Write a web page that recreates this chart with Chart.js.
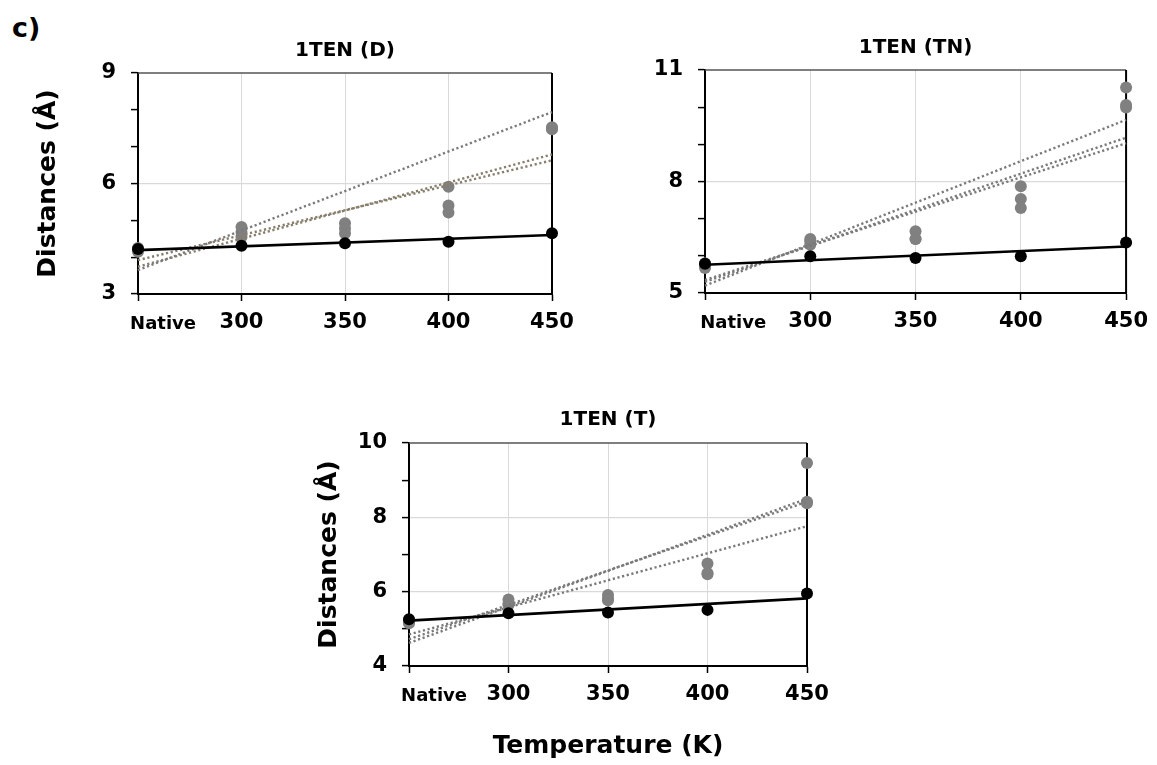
<!DOCTYPE html>
<html><head><meta charset="utf-8">
<script src="https://cdn.jsdelivr.net/npm/chart.js@4.4.1/dist/chart.umd.min.js"></script>
<style>
html,body{margin:0;padding:0;background:#fff;}
body{width:1157px;height:765px;position:relative;overflow:hidden;}
canvas{position:absolute;}
#lbl{position:absolute;left:12px;top:12px;font:bold 27px "DejaVu Sans";color:#000;line-height:32px;}
</style></head><body>
<div id="lbl">c)</div>
<canvas id="c1" width="590" height="345" style="left:0;top:0"></canvas>
<canvas id="c2" width="567" height="345" style="left:590px;top:0"></canvas>
<canvas id="c3" width="560" height="385" style="left:300px;top:380px"></canvas>
<script>
// ---- categories / tick labels ----
const categories = ['Native', '300', '350', '400', '450'];
const dMajorTicks = [3, 6, 9];
const tnMajorTicks = [5, 8, 11];
const tMajorTicks = [4, 6, 8, 10];

// ---- 1TEN (D) ----
const dBlack = [4.22, 4.31, 4.38, 4.42, 4.65];
const dGrayA = [4.25, 4.82, 4.92, 5.91, 7.53];
const dGrayB = [4.20, 4.68, 4.78, 5.40, 7.47];
const dGrayC = [4.15, 4.55, 4.65, 5.21, 7.50];
const dTrendBlack = [4.19, 4.60];
const dTrendA = [3.65, 7.94];
const dTrendB = [3.74, 6.79];
const dTrendC = [3.92, 6.63];

// ---- 1TEN (TN) ----
const tnBlack = [5.79, 5.99, 5.94, 5.99, 6.36];
const tnGrayA = [5.80, 6.45, 6.66, 7.87, 10.53];
const tnGrayB = [5.75, 6.39, 6.45, 7.53, 10.06];
const tnGrayC = [5.67, 6.30, 6.45, 7.29, 9.99];
const tnTrendBlack = [5.76, 6.25];
const tnTrendA = [5.20, 9.66];
const tnTrendB = [5.30, 9.18];
const tnTrendC = [5.35, 9.03];

// ---- 1TEN (T) ----
const tBlack = [5.26, 5.42, 5.44, 5.51, 5.95];
const tGrayA = [5.24, 5.79, 5.91, 6.76, 9.46];
const tGrayB = [5.18, 5.68, 5.77, 6.47, 8.42];
const tGrayC = [5.15, 5.64, 5.80, 6.50, 8.38];
const tTrendBlack = [5.22, 5.82];
const tTrendA = [4.62, 8.50];
const tTrendB = [4.72, 8.42];
const tTrendC = [4.85, 7.76];

const FONT = 'DejaVu Sans';
const pts = arr => arr.map((y, i) => ({x: i, y: y}));
const trend = arr => [{x: 0, y: arr[0]}, {x: categories.length - 1, y: arr[1]}];

const framePlugin = {
  id: 'frame',
  beforeDatasetsDraw(chart) {
    const a = chart.chartArea, c = chart.ctx;
    c.save();
    c.strokeStyle = '#555';
    c.lineWidth = 1.5;
    c.beginPath(); c.moveTo(a.left, a.top); c.lineTo(a.right, a.top); c.stroke();
    c.strokeStyle = '#000';
    c.lineWidth = 2;
    c.beginPath(); c.moveTo(a.right, a.top); c.lineTo(a.right, a.bottom); c.stroke();
    c.restore();
  },
  afterDraw(chart) {
    const o = chart.options.plugins.frame;
    const a = chart.chartArea, c = chart.ctx;
    c.save();
    c.font = 'bold 20px "' + FONT + '"';
    c.fillStyle = '#000';
    c.textAlign = 'center';
    c.textBaseline = 'middle';
    c.fillText(o.title, (a.left + a.right) / 2, a.top - o.titleOff);
    c.restore();
  }
};

function makeChart(id, p) {
  const grayTrendColors = p.trendColors;
  const dash = [2.2, 2.6];
  const datasets = [
    {data: pts(p.black), backgroundColor: '#000', borderColor: '#000', pointRadius: 6, showLine: false},
    {data: trend(p.tBlack), borderColor: '#000', borderWidth: 2.6, pointRadius: 0, showLine: true},
    {data: trend(p.tA), borderColor: grayTrendColors[0], borderWidth: 2.4, borderDash: dash, pointRadius: 0, showLine: true},
    {data: trend(p.tB), borderColor: grayTrendColors[1], borderWidth: 2.4, borderDash: dash, pointRadius: 0, showLine: true},
    {data: trend(p.tC), borderColor: grayTrendColors[2], borderWidth: 2.4, borderDash: dash, pointRadius: 0, showLine: true},
    {data: pts(p.gA), backgroundColor: '#808080', borderColor: '#808080', pointRadius: 6, showLine: false},
    {data: pts(p.gB), backgroundColor: '#808080', borderColor: '#808080', pointRadius: 6, showLine: false},
    {data: pts(p.gC), backgroundColor: '#808080', borderColor: '#808080', pointRadius: 6, showLine: false}
  ];
  datasets.forEach(d => { d.clip = false; d.pointBorderWidth = 0; d.pointHoverRadius = d.pointRadius; });
  return new Chart(document.getElementById(id), {
    type: 'scatter',
    data: {datasets},
    plugins: [framePlugin],
    options: {
      responsive: false,
      animation: false,
      events: [],
      layout: {padding: {left: 0, right: p.padRight, top: p.padTop, bottom: 0}},
      plugins: {
        legend: {display: false},
        tooltip: {enabled: false},
        title: {display: false},
        frame: {title: p.title, titleOff: p.titleOff}
      },
      scales: {
        x: {
          type: 'linear', min: 0, max: categories.length - 1,
          afterFit: s => { s.height = p.xHeight; },
          border: {display: true, color: '#000', width: 2},
          grid: {color: '#d9d9d9', lineWidth: 1, tickColor: '#000', tickLength: 7, tickWidth: 1.5},
          ticks: {
            stepSize: 1, autoSkip: false, maxRotation: 0, padding: 9, color: '#000',
            font: ctx => ({family: FONT, weight: 'bold', size: ctx.index === 0 ? 18 : 21,
                           lineHeight: ctx.index === 0 ? 1.55 : 1.2}),
            callback: (v) => v === 0 ? ' '.repeat(p.nativeShift) + categories[0] : categories[v]
          },
          title: p.xTitle ? {display: true, text: p.xTitle, color: '#000',
            font: {family: FONT, weight: 'bold', size: 25}, padding: {top: 0, bottom: p.xTitlePad}} : {display: false}
        },
        y: {
          min: p.yMin, max: p.yMax,
          afterFit: s => { s.width = p.yWidth; },
          border: {display: true, color: '#000', width: 2},
          grid: {
            color: ctx => (ctx.tick && p.majors.includes(ctx.tick.value) && ctx.tick.value !== p.yMin && ctx.tick.value !== p.yMax) ? '#d9d9d9' : 'rgba(0,0,0,0)',
            lineWidth: 1.2, tickColor: '#000', tickLength: 7, tickWidth: 1.5
          },
          ticks: {
            stepSize: 1, autoSkip: false, padding: 15, color: '#000',
            font: {family: FONT, weight: 'bold', size: 21},
            callback: v => p.majors.includes(v) ? String(v) : ''
          },
          title: p.yTitle ? {display: true, text: p.yTitle, color: '#000',
            font: {family: FONT, weight: 'bold', size: 25}, padding: {top: p.yTitlePad, bottom: 0}} : {display: false}
        }
      }
    }
  });
}

makeChart('c1', {
  title: '1TEN (D)', titleOff: 22,
  black: dBlack, gA: dGrayA, gB: dGrayB, gC: dGrayC,
  tBlack: dTrendBlack, tA: dTrendA, tB: dTrendB, tC: dTrendC,
  trendColors: ['#7a7a7a', '#877e6c', '#877e6c'],
  yMin: 3, yMax: 9, majors: dMajorTicks,
  padRight: 38, padTop: 73, xHeight: 51, yWidth: 138,
  yTitle: 'Distances (Å)', yTitlePad: 33, nativeShift: 8
});
makeChart('c2', {
  title: '1TEN (TN)', titleOff: 22,
  black: tnBlack, gA: tnGrayA, gB: tnGrayB, gC: tnGrayC,
  tBlack: tnTrendBlack, tA: tnTrendA, tB: tnTrendB, tC: tnTrendC,
  trendColors: ['#7a7a7a', '#7a7a7a', '#7a7a7a'],
  yMin: 5, yMax: 11, majors: tnMajorTicks,
  padRight: 26, padTop: 70, xHeight: 52, yWidth: 115,
  yTitle: null, nativeShift: 9
});
makeChart('c3', {
  title: '1TEN (T)', titleOff: 23,
  black: tBlack, gA: tGrayA, gB: tGrayB, gC: tGrayC,
  tBlack: tTrendBlack, tA: tTrendA, tB: tTrendB, tC: tTrendC,
  trendColors: ['#7a7a7a', '#7a7a7a', '#7a7a7a'],
  yMin: 4, yMax: 10, majors: tMajorTicks,
  padRight: 53, padTop: 63, xHeight: 99, yWidth: 109,
  yTitle: 'Distances (Å)', yTitlePad: 14, nativeShift: 8,
  xTitle: 'Temperature (K)', xTitlePad: 4
});
</script>
</body></html>
